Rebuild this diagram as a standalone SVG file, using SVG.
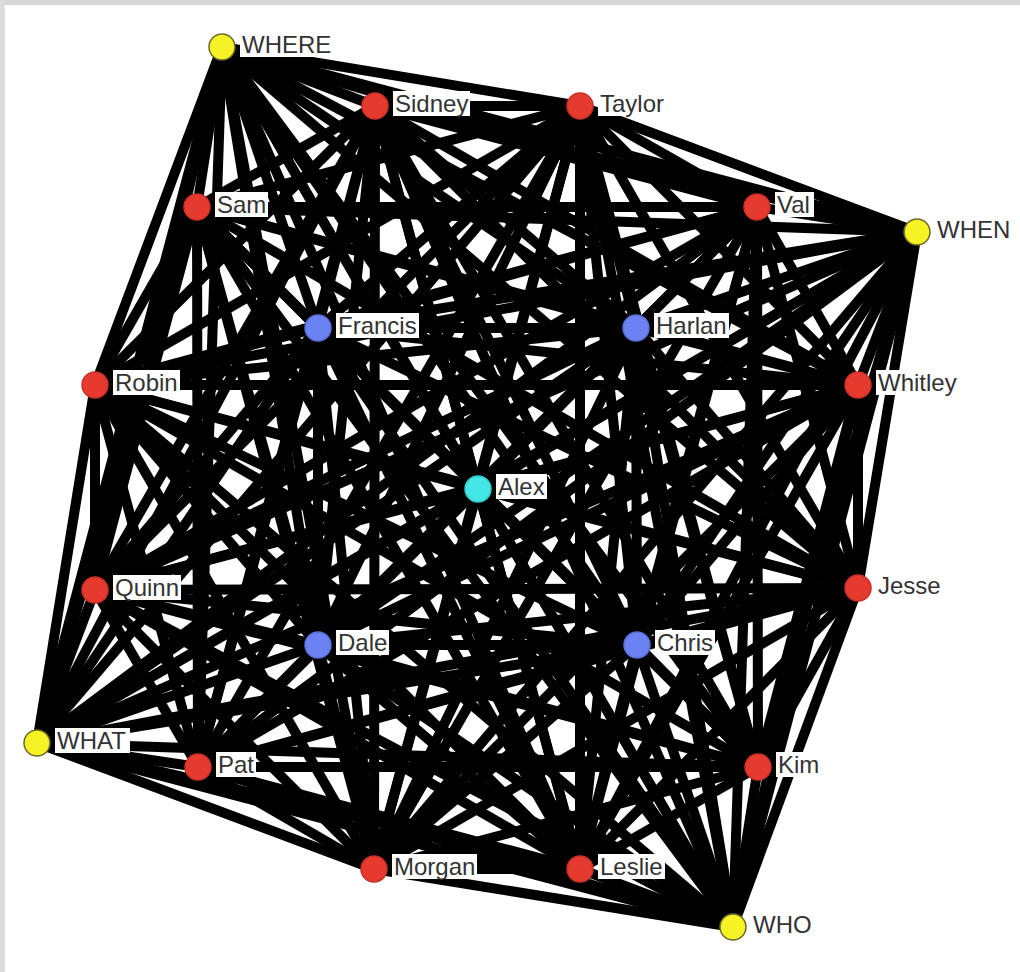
<svg xmlns="http://www.w3.org/2000/svg" width="1020" height="972" viewBox="0 0 1020 972">
<style>
.e line{stroke:#000;stroke-width:10;stroke-linecap:butt}
.n circle{stroke-width:1.5}
.red{fill:#e63a2e;stroke:#c8302a}
.yel{fill:#f6f224;stroke:#6a6a30}
.blu{fill:#6b82f2;stroke:#5a6fd8}
.cya{fill:#44e6e6;stroke:#30c8c8}
.lb{fill:#fff}
.t{font-family:"Liberation Sans",Arial,sans-serif;font-size:24px;fill:#333}
</style>
<rect width="1020" height="972" fill="#fff"/>
<rect x="0" y="0" width="1020" height="5" fill="#d6d6d6"/>
<rect x="0" y="0" width="5" height="972" fill="#dcdcdc"/>
<g id="connectors" class="e">
<line x1="222" y1="47" x2="375" y2="106"/><line x1="222" y1="47" x2="580" y2="106"/><line x1="222" y1="47" x2="197" y2="207"/><line x1="222" y1="47" x2="757" y2="207"/><line x1="222" y1="47" x2="917" y2="232"/><line x1="222" y1="47" x2="318" y2="328"/><line x1="222" y1="47" x2="636" y2="328"/><line x1="222" y1="47" x2="95" y2="385"/><line x1="222" y1="47" x2="858" y2="385"/><line x1="222" y1="47" x2="478" y2="489"/><line x1="222" y1="47" x2="95" y2="590"/><line x1="222" y1="47" x2="858" y2="588"/><line x1="222" y1="47" x2="318" y2="645"/><line x1="222" y1="47" x2="637" y2="645"/><line x1="222" y1="47" x2="37" y2="743"/><line x1="222" y1="47" x2="198" y2="767"/><line x1="222" y1="47" x2="758" y2="767"/><line x1="222" y1="47" x2="374" y2="869"/><line x1="222" y1="47" x2="580" y2="869"/><line x1="222" y1="47" x2="733" y2="927"/>
<line x1="375" y1="106" x2="580" y2="106"/><line x1="375" y1="106" x2="197" y2="207"/><line x1="375" y1="106" x2="757" y2="207"/><line x1="375" y1="106" x2="917" y2="232"/><line x1="375" y1="106" x2="318" y2="328"/><line x1="375" y1="106" x2="636" y2="328"/><line x1="375" y1="106" x2="95" y2="385"/><line x1="375" y1="106" x2="858" y2="385"/><line x1="375" y1="106" x2="478" y2="489"/><line x1="375" y1="106" x2="95" y2="590"/><line x1="375" y1="106" x2="858" y2="588"/><line x1="375" y1="106" x2="318" y2="645"/><line x1="375" y1="106" x2="637" y2="645"/><line x1="375" y1="106" x2="37" y2="743"/><line x1="375" y1="106" x2="198" y2="767"/><line x1="375" y1="106" x2="758" y2="767"/><line x1="375" y1="106" x2="374" y2="869"/><line x1="375" y1="106" x2="580" y2="869"/><line x1="375" y1="106" x2="733" y2="927"/>
<line x1="580" y1="106" x2="197" y2="207"/><line x1="580" y1="106" x2="757" y2="207"/><line x1="580" y1="106" x2="917" y2="232"/><line x1="580" y1="106" x2="318" y2="328"/><line x1="580" y1="106" x2="636" y2="328"/><line x1="580" y1="106" x2="95" y2="385"/><line x1="580" y1="106" x2="858" y2="385"/><line x1="580" y1="106" x2="478" y2="489"/><line x1="580" y1="106" x2="95" y2="590"/><line x1="580" y1="106" x2="858" y2="588"/><line x1="580" y1="106" x2="318" y2="645"/><line x1="580" y1="106" x2="637" y2="645"/><line x1="580" y1="106" x2="37" y2="743"/><line x1="580" y1="106" x2="198" y2="767"/><line x1="580" y1="106" x2="758" y2="767"/><line x1="580" y1="106" x2="374" y2="869"/><line x1="580" y1="106" x2="580" y2="869"/><line x1="580" y1="106" x2="733" y2="927"/>
<line x1="197" y1="207" x2="757" y2="207"/><line x1="197" y1="207" x2="917" y2="232"/><line x1="197" y1="207" x2="318" y2="328"/><line x1="197" y1="207" x2="636" y2="328"/><line x1="197" y1="207" x2="95" y2="385"/><line x1="197" y1="207" x2="858" y2="385"/><line x1="197" y1="207" x2="478" y2="489"/><line x1="197" y1="207" x2="95" y2="590"/><line x1="197" y1="207" x2="858" y2="588"/><line x1="197" y1="207" x2="318" y2="645"/><line x1="197" y1="207" x2="637" y2="645"/><line x1="197" y1="207" x2="37" y2="743"/><line x1="197" y1="207" x2="198" y2="767"/><line x1="197" y1="207" x2="758" y2="767"/><line x1="197" y1="207" x2="374" y2="869"/><line x1="197" y1="207" x2="580" y2="869"/><line x1="197" y1="207" x2="733" y2="927"/>
<line x1="757" y1="207" x2="917" y2="232"/><line x1="757" y1="207" x2="318" y2="328"/><line x1="757" y1="207" x2="636" y2="328"/><line x1="757" y1="207" x2="95" y2="385"/><line x1="757" y1="207" x2="858" y2="385"/><line x1="757" y1="207" x2="478" y2="489"/><line x1="757" y1="207" x2="95" y2="590"/><line x1="757" y1="207" x2="858" y2="588"/><line x1="757" y1="207" x2="318" y2="645"/><line x1="757" y1="207" x2="637" y2="645"/><line x1="757" y1="207" x2="37" y2="743"/><line x1="757" y1="207" x2="198" y2="767"/><line x1="757" y1="207" x2="758" y2="767"/><line x1="757" y1="207" x2="374" y2="869"/><line x1="757" y1="207" x2="580" y2="869"/><line x1="757" y1="207" x2="733" y2="927"/>
<line x1="917" y1="232" x2="318" y2="328"/><line x1="917" y1="232" x2="636" y2="328"/><line x1="917" y1="232" x2="95" y2="385"/><line x1="917" y1="232" x2="858" y2="385"/><line x1="917" y1="232" x2="478" y2="489"/><line x1="917" y1="232" x2="95" y2="590"/><line x1="917" y1="232" x2="858" y2="588"/><line x1="917" y1="232" x2="318" y2="645"/><line x1="917" y1="232" x2="637" y2="645"/><line x1="917" y1="232" x2="37" y2="743"/><line x1="917" y1="232" x2="198" y2="767"/><line x1="917" y1="232" x2="758" y2="767"/><line x1="917" y1="232" x2="374" y2="869"/><line x1="917" y1="232" x2="580" y2="869"/><line x1="917" y1="232" x2="733" y2="927"/>
<line x1="318" y1="328" x2="636" y2="328"/><line x1="318" y1="328" x2="95" y2="385"/><line x1="318" y1="328" x2="858" y2="385"/><line x1="318" y1="328" x2="478" y2="489"/><line x1="318" y1="328" x2="95" y2="590"/><line x1="318" y1="328" x2="858" y2="588"/><line x1="318" y1="328" x2="318" y2="645"/><line x1="318" y1="328" x2="637" y2="645"/><line x1="318" y1="328" x2="37" y2="743"/><line x1="318" y1="328" x2="198" y2="767"/><line x1="318" y1="328" x2="758" y2="767"/><line x1="318" y1="328" x2="374" y2="869"/><line x1="318" y1="328" x2="580" y2="869"/><line x1="318" y1="328" x2="733" y2="927"/>
<line x1="636" y1="328" x2="95" y2="385"/><line x1="636" y1="328" x2="858" y2="385"/><line x1="636" y1="328" x2="478" y2="489"/><line x1="636" y1="328" x2="95" y2="590"/><line x1="636" y1="328" x2="858" y2="588"/><line x1="636" y1="328" x2="318" y2="645"/><line x1="636" y1="328" x2="637" y2="645"/><line x1="636" y1="328" x2="37" y2="743"/><line x1="636" y1="328" x2="198" y2="767"/><line x1="636" y1="328" x2="758" y2="767"/><line x1="636" y1="328" x2="374" y2="869"/><line x1="636" y1="328" x2="580" y2="869"/><line x1="636" y1="328" x2="733" y2="927"/>
<line x1="95" y1="385" x2="858" y2="385"/><line x1="95" y1="385" x2="478" y2="489"/><line x1="95" y1="385" x2="95" y2="590"/><line x1="95" y1="385" x2="858" y2="588"/><line x1="95" y1="385" x2="318" y2="645"/><line x1="95" y1="385" x2="637" y2="645"/><line x1="95" y1="385" x2="37" y2="743"/><line x1="95" y1="385" x2="198" y2="767"/><line x1="95" y1="385" x2="758" y2="767"/><line x1="95" y1="385" x2="374" y2="869"/><line x1="95" y1="385" x2="580" y2="869"/><line x1="95" y1="385" x2="733" y2="927"/>
<line x1="858" y1="385" x2="478" y2="489"/><line x1="858" y1="385" x2="95" y2="590"/><line x1="858" y1="385" x2="858" y2="588"/><line x1="858" y1="385" x2="318" y2="645"/><line x1="858" y1="385" x2="637" y2="645"/><line x1="858" y1="385" x2="37" y2="743"/><line x1="858" y1="385" x2="198" y2="767"/><line x1="858" y1="385" x2="758" y2="767"/><line x1="858" y1="385" x2="374" y2="869"/><line x1="858" y1="385" x2="580" y2="869"/><line x1="858" y1="385" x2="733" y2="927"/>
<line x1="478" y1="489" x2="95" y2="590"/><line x1="478" y1="489" x2="858" y2="588"/><line x1="478" y1="489" x2="318" y2="645"/><line x1="478" y1="489" x2="637" y2="645"/><line x1="478" y1="489" x2="37" y2="743"/><line x1="478" y1="489" x2="198" y2="767"/><line x1="478" y1="489" x2="758" y2="767"/><line x1="478" y1="489" x2="374" y2="869"/><line x1="478" y1="489" x2="580" y2="869"/><line x1="478" y1="489" x2="733" y2="927"/>
<line x1="95" y1="590" x2="858" y2="588"/><line x1="95" y1="590" x2="318" y2="645"/><line x1="95" y1="590" x2="637" y2="645"/><line x1="95" y1="590" x2="37" y2="743"/><line x1="95" y1="590" x2="198" y2="767"/><line x1="95" y1="590" x2="758" y2="767"/><line x1="95" y1="590" x2="374" y2="869"/><line x1="95" y1="590" x2="580" y2="869"/><line x1="95" y1="590" x2="733" y2="927"/>
<line x1="858" y1="588" x2="318" y2="645"/><line x1="858" y1="588" x2="637" y2="645"/><line x1="858" y1="588" x2="37" y2="743"/><line x1="858" y1="588" x2="198" y2="767"/><line x1="858" y1="588" x2="758" y2="767"/><line x1="858" y1="588" x2="374" y2="869"/><line x1="858" y1="588" x2="580" y2="869"/><line x1="858" y1="588" x2="733" y2="927"/>
<line x1="318" y1="645" x2="637" y2="645"/><line x1="318" y1="645" x2="37" y2="743"/><line x1="318" y1="645" x2="198" y2="767"/><line x1="318" y1="645" x2="758" y2="767"/><line x1="318" y1="645" x2="374" y2="869"/><line x1="318" y1="645" x2="580" y2="869"/><line x1="318" y1="645" x2="733" y2="927"/>
<line x1="637" y1="645" x2="37" y2="743"/><line x1="637" y1="645" x2="198" y2="767"/><line x1="637" y1="645" x2="758" y2="767"/><line x1="637" y1="645" x2="374" y2="869"/><line x1="637" y1="645" x2="580" y2="869"/><line x1="637" y1="645" x2="733" y2="927"/>
<line x1="37" y1="743" x2="198" y2="767"/><line x1="37" y1="743" x2="758" y2="767"/><line x1="37" y1="743" x2="374" y2="869"/><line x1="37" y1="743" x2="580" y2="869"/><line x1="37" y1="743" x2="733" y2="927"/>
<line x1="198" y1="767" x2="758" y2="767"/><line x1="198" y1="767" x2="374" y2="869"/><line x1="198" y1="767" x2="580" y2="869"/><line x1="198" y1="767" x2="733" y2="927"/>
<line x1="758" y1="767" x2="374" y2="869"/><line x1="758" y1="767" x2="580" y2="869"/><line x1="758" y1="767" x2="733" y2="927"/>
<line x1="374" y1="869" x2="580" y2="869"/><line x1="374" y1="869" x2="733" y2="927"/>
<line x1="580" y1="869" x2="733" y2="927"/>
</g>
<g id="node-WHERE" class="n"><circle class="yel" cx="222" cy="47" r="13"/><rect class="lb" x="240" y="32" width="93" height="25"/><text class="t" x="242" y="53">WHERE</text></g>
<g id="node-Sidney" class="n"><circle class="red" cx="375" cy="106" r="13"/><rect class="lb" x="393" y="91" width="77" height="25"/><text class="t" x="395" y="112">Sidney</text></g>
<g id="node-Taylor" class="n"><circle class="red" cx="580" cy="106" r="13"/><rect class="lb" x="598" y="91" width="71" height="25"/><text class="t" x="600" y="112">Taylor</text></g>
<g id="node-Sam" class="n"><circle class="red" cx="197" cy="207" r="13"/><rect class="lb" x="215" y="192" width="53" height="25"/><text class="t" x="217" y="213">Sam</text></g>
<g id="node-Val" class="n"><circle class="red" cx="757" cy="207" r="13"/><rect class="lb" x="775" y="192" width="39" height="25"/><text class="t" x="777" y="213">Val</text></g>
<g id="node-WHEN" class="n"><circle class="yel" cx="917" cy="232" r="13"/><rect class="lb" x="935" y="217" width="77" height="25"/><text class="t" x="937" y="238">WHEN</text></g>
<g id="node-Francis" class="n"><circle class="blu" cx="318" cy="328" r="13"/><rect class="lb" x="336" y="313" width="83" height="25"/><text class="t" x="338" y="334">Francis</text></g>
<g id="node-Harlan" class="n"><circle class="blu" cx="636" cy="328" r="13"/><rect class="lb" x="654" y="313" width="75" height="25"/><text class="t" x="656" y="334">Harlan</text></g>
<g id="node-Robin" class="n"><circle class="red" cx="95" cy="385" r="13"/><rect class="lb" x="113" y="370" width="67" height="25"/><text class="t" x="115" y="391">Robin</text></g>
<g id="node-Whitley" class="n"><circle class="red" cx="858" cy="385" r="13"/><rect class="lb" x="876" y="370" width="83" height="25"/><text class="t" x="878" y="391">Whitley</text></g>
<g id="node-Alex" class="n"><circle class="cya" cx="478" cy="489" r="13"/><rect class="lb" x="496" y="474" width="51" height="25"/><text class="t" x="498" y="495">Alex</text></g>
<g id="node-Quinn" class="n"><circle class="red" cx="95" cy="590" r="13"/><rect class="lb" x="113" y="575" width="68" height="25"/><text class="t" x="115" y="596">Quinn</text></g>
<g id="node-Jesse" class="n"><circle class="red" cx="858" cy="588" r="13"/><rect class="lb" x="876" y="573" width="67" height="25"/><text class="t" x="878" y="594">Jesse</text></g>
<g id="node-Dale" class="n"><circle class="blu" cx="318" cy="645" r="13"/><rect class="lb" x="336" y="630" width="53" height="25"/><text class="t" x="338" y="651">Dale</text></g>
<g id="node-Chris" class="n"><circle class="blu" cx="637" cy="645" r="13"/><rect class="lb" x="655" y="630" width="60" height="25"/><text class="t" x="657" y="651">Chris</text></g>
<g id="node-WHAT" class="n"><circle class="yel" cx="37" cy="743" r="13"/><rect class="lb" x="55" y="728" width="75" height="25"/><text class="t" x="57" y="749">WHAT</text></g>
<g id="node-Pat" class="n"><circle class="red" cx="198" cy="767" r="13"/><rect class="lb" x="216" y="752" width="40" height="25"/><text class="t" x="218" y="773">Pat</text></g>
<g id="node-Kim" class="n"><circle class="red" cx="758" cy="767" r="13"/><rect class="lb" x="776" y="752" width="45" height="25"/><text class="t" x="778" y="773">Kim</text></g>
<g id="node-Morgan" class="n"><circle class="red" cx="374" cy="869" r="13"/><rect class="lb" x="392" y="854" width="85" height="25"/><text class="t" x="394" y="875">Morgan</text></g>
<g id="node-Leslie" class="n"><circle class="red" cx="580" cy="869" r="13"/><rect class="lb" x="598" y="854" width="67" height="25"/><text class="t" x="600" y="875">Leslie</text></g>
<g id="node-WHO" class="n"><circle class="yel" cx="733" cy="927" r="13"/><rect class="lb" x="751" y="912" width="63" height="25"/><text class="t" x="753" y="933">WHO</text></g>
</svg>
